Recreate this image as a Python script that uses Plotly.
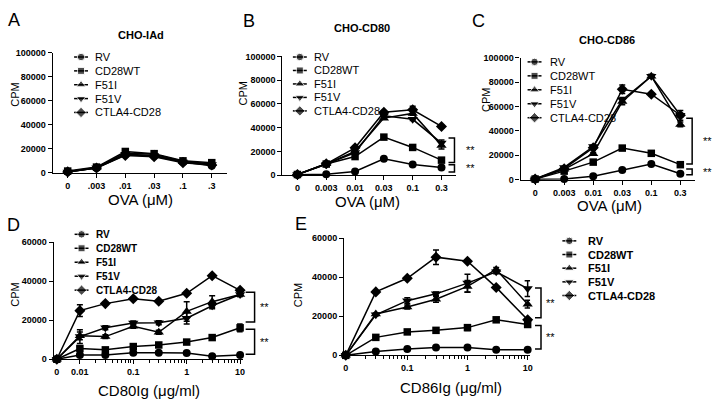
import plotly.graph_objects as go

W, H = 724, 414
FONT = "Liberation Sans, Arial, sans-serif"

# ---------------- data ----------------
SERIES = ["RV", "CD28WT", "F51I", "F51V", "CTLA4-CD28"]
SYMBOLS = ["circle", "square", "triangle-up", "triangle-down", "diamond"]
MSIZE = [8, 7.5, 9, 9, 8.5]

OVA_A_LABELS = ["0", ".003", ".01", ".03", ".1", ".3"]
OVA_BC_LABELS = ["0", "0.003", "0.01", "0.03", "0.1", "0.3"]

# Panel A  CHO-IAd
A_RV = [1000, 4000, 15000, 14000, 9000, 6000]
A_CD28WT = [1500, 4800, 17800, 16000, 10000, 8500]
A_F51I = [1000, 4500, 16500, 15500, 9500, 7500]
A_F51V = [800, 4200, 15500, 14500, 9000, 7000]
A_CTLA4 = [800, 4000, 14500, 13500, 8500, 6500]

# Panel B  CHO-CD80
B_RV = [200, 800, 3000, 13700, 9000, 6300]
B_CD28WT = [500, 9300, 15600, 32000, 23300, 12600]
B_F51I = [500, 9500, 20000, 48000, 52000, 25000]
B_F51V = [500, 9000, 19000, 50000, 47000, 27000]
B_CTLA4 = [500, 9500, 23000, 53000, 55000, 41000]
B_ERR_F51I = [0, 0, 0, 1000, 1500, 3000]
B_ERR_F51V = [0, 0, 0, 1000, 1000, 2500]
B_ERR_CTLA4 = [0, 0, 1000, 1000, 3000, 1000]

# Panel C  CHO-CD86
C_RV = [300, 500, 2900, 8000, 12800, 4800]
C_CD28WT = [500, 7000, 14400, 25900, 21600, 12300]
C_F51I = [500, 8500, 21300, 64000, 84800, 45300]
C_F51V = [500, 10000, 27200, 65300, 84800, 52800]
C_CTLA4 = [500, 9000, 26100, 74100, 70100, 52800]
C_ERR_F51I = [0, 0, 1000, 2500, 1500, 2000]
C_ERR_F51V = [0, 0, 1000, 2000, 1500, 4000]
C_ERR_CTLA4 = [0, 0, 1000, 3500, 1000, 1500]

# Panel D  CD80Ig dose (ug/ml)
D_DOSE = [0, 0.01, 0.03, 0.1, 0.3, 1, 3, 10]
D_RV = [0, 2200, 2200, 3300, 3300, 3200, 1500, 2200]
D_CD28WT = [0, 5500, 4800, 6500, 7300, 8800, 11100, 16100]
D_F51I = [0, 12000, 11600, 16900, 13800, 24500, 29500, 33200]
D_F51V = [0, 11600, 16100, 18600, 18700, 21000, 27400, 33200]
D_CTLA4 = [0, 24900, 28500, 31000, 29700, 33800, 42800, 35300]
D_ERR_CD28WT = [0, 1000, 500, 500, 500, 500, 500, 2000]
D_ERR_F51I = [0, 2000, 1000, 1000, 1000, 5000, 3000, 1000]
D_ERR_F51V = [0, 3500, 1000, 1000, 1000, 3000, 1500, 1000]
D_ERR_CTLA4 = [0, 3000, 500, 500, 500, 500, 500, 500]

# Panel E  CD86Ig dose (ug/ml)
E_DOSE = [0, 0.03, 0.1, 0.3, 1, 3, 10]
E_RV = [0, 2000, 3300, 4000, 4000, 2800, 2800]
E_CD28WT = [0, 9200, 12000, 12800, 14200, 18200, 15800]
E_F51I = [0, 21200, 24800, 28700, 35300, 44000, 26200]
E_F51V = [0, 20800, 28000, 31500, 37000, 42800, 34200]
E_CTLA4 = [0, 32500, 39500, 50300, 48200, 34800, 18200]
E_ERR_CD28WT = [0, 500, 500, 500, 1500, 1000, 1000]
E_ERR_F51I = [0, 500, 1000, 1500, 3000, 1000, 2000]
E_ERR_F51V = [0, 500, 1500, 1000, 4500, 1000, 4000]
E_ERR_CTLA4 = [0, 500, 500, 3700, 500, 500, 500]

# where the "0" dose sits on the broken log axes
ZERO_D = 0.0037
ZERO_E = 0.0095

# significance brackets: (top, bottom) in CPM
BRACKETS_B = [(31300, 10700), (8800, 2700)]
BRACKETS_C = [(50400, 12800), (8800, 4000)]
BRACKETS_D = [(34300, 19100), (15400, 2500)]
BRACKETS_E = [(34500, 19200), (15300, 3200)]


# ---------------- helpers ----------------
def xd(x0, x1):
    return [x0 / W, x1 / W]


def yd(ytop, ybot):
    return [1 - ybot / H, 1 - ytop / H]


fig = go.Figure()


def add_series(xs, ys_list, errs, ax):
    for i, name in enumerate(SERIES):
        ys = ys_list[i]
        e = errs[i]
        kw = {}
        if e is not None:
            kw["error_y"] = dict(type="data", array=e, visible=True, color="black",
                                 thickness=1.5, width=3)
        fig.add_trace(go.Scatter(
            x=xs, y=ys, mode="lines+markers", name=name,
            line=dict(color="black", width=1.5),
            marker=dict(symbol=SYMBOLS[i], size=MSIZE[i], color="black"),
            xaxis="x" + ax, yaxis="y" + ax, cliponaxis=False, showlegend=False,
            **kw))


idx = list(range(6))
add_series(idx, [A_RV, A_CD28WT, A_F51I, A_F51V, A_CTLA4], [None] * 5, "")
add_series(idx, [B_RV, B_CD28WT, B_F51I, B_F51V, B_CTLA4],
           [None, None, B_ERR_F51I, B_ERR_F51V, B_ERR_CTLA4], "2")
add_series(idx, [C_RV, C_CD28WT, C_F51I, C_F51V, C_CTLA4],
           [None, None, C_ERR_F51I, C_ERR_F51V, C_ERR_CTLA4], "3")
dx = [ZERO_D if v == 0 else v for v in D_DOSE]
add_series(dx, [D_RV, D_CD28WT, D_F51I, D_F51V, D_CTLA4],
           [None, D_ERR_CD28WT, D_ERR_F51I, D_ERR_F51V, D_ERR_CTLA4], "4")
ex = [ZERO_E if v == 0 else v for v in E_DOSE]
add_series(ex, [E_RV, E_CD28WT, E_F51I, E_F51V, E_CTLA4],
           [None, E_ERR_CD28WT, E_ERR_F51I, E_ERR_F51V, E_ERR_CTLA4], "5")

# ---------------- legends (pixel overlay axis x6/y6) ----------------
LEGENDS = [
    # marker x, text x, first row y, row gap, bold, font size
    (80.5, 93, 53.3, 14.2, False, 11),
    (300.5, 313, 53.3, 13.8, False, 11),
    (536.5, 550, 58.3, 14.3, False, 11),
    (81, 94, 235, 14.3, True, 10),
    (571.5, 588, 241.7, 14.0, True, 11),
]
annotations = []
for (mx, tx, y0, gap, bold, fs) in LEGENDS:
    for i, name in enumerate(SERIES):
        ry = y0 + i * gap
        fig.add_trace(go.Scatter(
            x=[mx - 7, mx, mx + 7], y=[ry, ry, ry], mode="lines+markers",
            line=dict(color="black", width=1.5),
            marker=dict(symbol=SYMBOLS[i], size=[0, MSIZE[i] - 0.5, 0], color="black"),
            xaxis="x6", yaxis="y6", showlegend=False, hoverinfo="skip",
            cliponaxis=False))
        annotations.append(dict(
            x=tx, y=ry, xref="x6", yref="y6", text=name, showarrow=False,
            xanchor="left", yanchor="middle",
            font=dict(family=FONT, size=fs, color="black",
                      weight="bold" if bold else "normal")))

# ---------------- axes ----------------
tickfont = dict(family=FONT, size=9, color="black", weight="bold")
common = dict(showline=True, linecolor="black", linewidth=1.3, ticks="outside",
              ticklen=4, tickwidth=1.2, tickcolor="black", showgrid=False,
              zeroline=False, tickfont=tickfont, fixedrange=True)

minor_vals = [m * 10 ** k for k in (-2, -1, 0) for m in range(2, 10)]
minor = dict(tickmode="array", tickvals=minor_vals, ticks="outside", ticklen=2.5,
             tickwidth=1, tickcolor="black", showgrid=False)

Y100 = [0, 20000, 40000, 60000, 80000, 100000]
Y60 = [0, 20000, 40000, 60000]

layout_axes = dict(
    xaxis=dict(domain=xd(52, 227), range=[-0.52, 5.52], tickmode="array",
               tickvals=idx, ticktext=OVA_A_LABELS, anchor="y", **common),
    yaxis=dict(domain=yd(49, 172), range=[0, 100000], tickvals=Y100, tickformat="d",
               anchor="x", **common),
    xaxis2=dict(domain=xd(283, 458), range=[-0.52, 5.52], tickmode="array",
                tickvals=idx, ticktext=OVA_BC_LABELS, anchor="y2", **common),
    yaxis2=dict(domain=yd(52.7, 174.3), range=[0, 100000], tickvals=Y100, tickformat="d",
                anchor="x2", **common),
    xaxis3=dict(domain=xd(522.5, 698), range=[-0.5, 5.51], tickmode="array",
                tickvals=idx, ticktext=OVA_BC_LABELS, anchor="y3", **common),
    yaxis3=dict(domain=yd(54, 179), range=[0, 100000], tickvals=Y100, tickformat="d",
                anchor="x3", **common),
    xaxis4=dict(domain=xd(53, 243), type="log", range=[-2.49, 1.048], tickmode="array",
                tickvals=[ZERO_D, 0.01, 0.1, 1, 10], ticktext=["0", "0.01", "0.1", "1", "10"],
                anchor="y4", minor=minor, **common),
    yaxis4=dict(domain=yd(243, 363), range=[0, 60000], tickvals=Y60, tickformat="d",
                anchor="x4", **common),
    xaxis5=dict(domain=xd(345, 532), type="log", range=[-2.05, 1.04], tickmode="array",
                tickvals=[ZERO_E, 0.1, 1, 10], ticktext=["0", "0.1", "1", "10"],
                anchor="y5", minor=minor, **common),
    yaxis5=dict(domain=yd(239, 359), range=[0, 60000], tickvals=Y60, tickformat="d",
                anchor="x5", **common),
    xaxis6=dict(domain=[0, 1], range=[0, W], visible=False, fixedrange=True, anchor="y6"),
    yaxis6=dict(domain=[0, 1], range=[H, 0], visible=False, fixedrange=True, anchor="x6"),
)


# ---------------- text ----------------
def ptext(x, y, text, size, bold=False, angle=0, color="black"):
    annotations.append(dict(
        x=x, y=y, xref="x6", yref="y6", text=text, showarrow=False,
        xanchor="center", yanchor="middle", textangle=angle,
        font=dict(family=FONT, size=size, color=color,
                  weight="bold" if bold else "normal")))


for letter, x, y in [("A", 13, 15), ("B", 249, 16), ("C", 480, 16), ("D", 13, 225), ("E", 302, 224)]:
    ptext(x, y, letter, 18)
for title, x, y in [("CHO-IAd", 141, 31), ("CHO-CD80", 363, 24), ("CHO-CD86", 609, 36)]:
    ptext(x, y, title, 11, bold=True)
for x, y in [(140, 199), (369, 201), (612, 205)]:
    ptext(x, y, "OVA (\u03bcM)", 15)
ptext(149, 395, "CD80Ig (\u03bcg/ml)", 15)
ptext(452, 392, "CD86Ig (\u03bcg/ml)", 15)
for x, y in [(14, 92), (243, 91), (487, 97), (14, 297), (298, 297)]:
    ptext(x, y, "CPM", 11, angle=-90)

# ---------------- brackets ----------------
shapes = []
for brackets, yref, vx, tick, sx in [
    (BRACKETS_B, "y2", 456, 6, 472),
    (BRACKETS_C, "y3", 695, 6, 710),
    (BRACKETS_D, "y4", 255, 9, 265),
    (BRACKETS_E, "y5", 543, 6, 553),
]:
    for top, bot in brackets:
        shapes.append(dict(
            type="path", xref="x6", yref=yref,
            path=f"M {vx - tick},{top} L {vx},{top} L {vx},{bot} L {vx - tick},{bot}",
            line=dict(color="black", width=1.5)))
        annotations.append(dict(
            x=sx, y=(top + bot) / 2, xref="x6", yref=yref, text="**", showarrow=False,
            xanchor="center", yanchor="middle",
            font=dict(family=FONT, size=11, color="black")))

fig.update_layout(
    width=W, height=H, margin=dict(l=0, r=0, t=0, b=0),
    paper_bgcolor="white", plot_bgcolor="rgba(0,0,0,0)", showlegend=False,
    annotations=annotations, shapes=shapes, **layout_axes)

fig.write_html("out.html", config={"displayModeBar": False},
               post_script="document.body.style.margin='0';")
